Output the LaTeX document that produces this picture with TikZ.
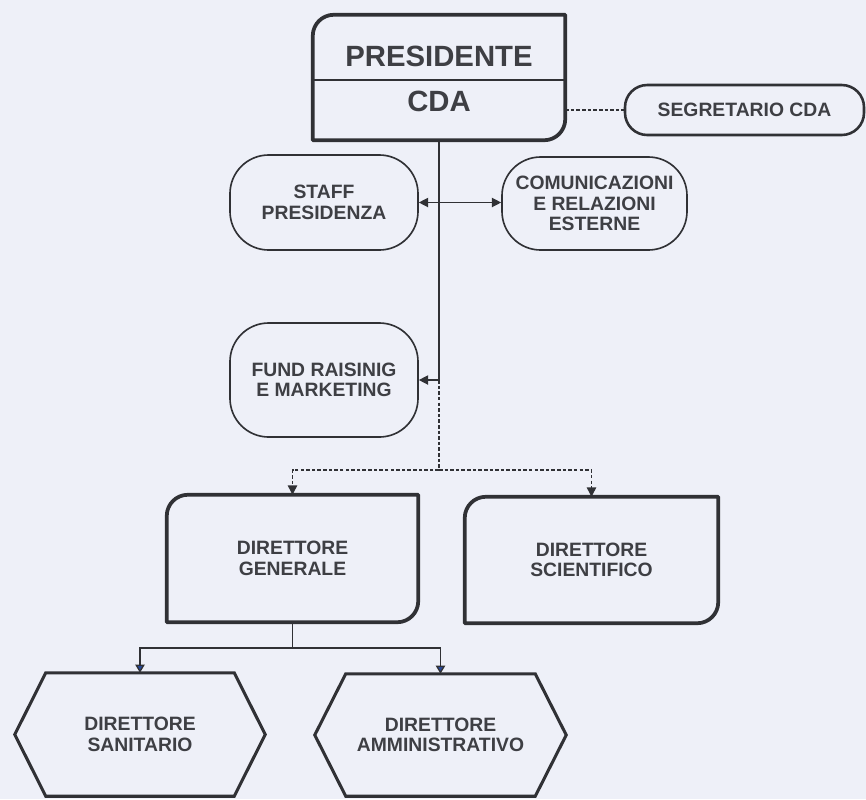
\documentclass[tikz,border=0pt]{standalone}
\usepackage{fontspec}
\setmainfont{Liberation Sans}
\usetikzlibrary{arrows.meta}

\definecolor{paper}{RGB}{238,240,248}
\definecolor{ink}{RGB}{48,49,53}
\definecolor{txt}{RGB}{62,63,68}
\definecolor{tipblue}{RGB}{40,72,150}

\newcommand{\cornerrad}{18pt}
\newcommand{\hexin}{0.93cm}
% box with rounded top-left and bottom-right corners
\newcommand{\cornerframe}[1]{%
  \draw[frame] (#1.south west) -- ([yshift=-\cornerrad]#1.north west)
    arc[start angle=180,end angle=90,radius=\cornerrad] -- (#1.north east)
    -- ([yshift=\cornerrad]#1.south east)
    arc[start angle=0,end angle=-90,radius=\cornerrad] -- cycle;}
% hexagon round a node
\newcommand{\hexframe}[1]{%
  \draw[hexline] (#1.west) -- ([xshift=\hexin]#1.north west)
    -- ([xshift=-\hexin]#1.north east) -- (#1.east)
    -- ([xshift=-\hexin]#1.south east) -- ([xshift=\hexin]#1.south west) -- cycle;}

\begin{document}
\begin{tikzpicture}[x=0.03cm,y=-0.03cm,
  lbl/.style={text=txt,font=\fontsize{16.5}{17.5}\selectfont\bfseries,align=center,inner sep=0pt},
  bigtext/.style={text=txt,font=\fontsize{25}{26}\selectfont\bfseries,inner sep=0pt},
  roundbox/.style={lbl,draw=ink,line width=1.4pt,rounded corners=33pt},
  ovalbox/.style={lbl,draw=ink,line width=2.2pt,rounded corners=19pt},
  plainbox/.style={lbl,draw=none},
  frame/.style={draw=ink,line width=3.2pt,line join=round},
  hexline/.style={draw=ink,line width=2.6pt,line join=miter},
  link/.style={draw=ink,line width=1.1pt},
  dlink/.style={link,dash pattern=on 3pt off 1.8pt},
  tip/.style={-{Triangle[length=8pt,width=8pt]}},
  bluetip/.style={-{Triangle[length=7pt,width=8pt,fill=tipblue]}}]

\fill[paper] (0,0) rectangle (866,799);
\useasboundingbox (0,0) rectangle (866,799);

% presidente
\node[plainbox,minimum width=7.56cm,minimum height=3.75cm] (pres) at (439,77.5) {};
\node[bigtext] (presname) at (439,56) {PRESIDENTE};
\node[bigtext] (cda) at (439,101) {CDA};
\cornerframe{pres}
\draw[ink,line width=1.6pt] (pres.west |- 0,80) -- (pres.east |- 0,80);

\node[ovalbox,minimum width=7.17cm,minimum height=1.5cm] (segr) at (744.5,110) {SEGRETARIO CDA};

% staff
\node[roundbox,minimum width=5.64cm,minimum height=2.85cm] (staff) at (324,202.5) {STAFF\\PRESIDENZA};
\node[roundbox,minimum width=5.55cm,minimum height=2.79cm] (comm) at (594.5,203.5) {COMUNICAZIONI\\E RELAZIONI\\ESTERNE};
\node[roundbox,minimum width=5.64cm,minimum height=3.42cm] (fund) at (324,380) {FUND RAISINIG\\E MARKETING};

% direttori
\node[plainbox,minimum width=7.53cm,minimum height=3.81cm] (dg) at (292.5,558.5) {DIRETTORE\\GENERALE};
\node[plainbox,minimum width=7.59cm,minimum height=3.78cm] (ds) at (591.5,560) {DIRETTORE\\SCIENTIFICO};
\cornerframe{dg}
\cornerframe{ds}

\node[plainbox,minimum width=7.5cm,minimum height=3.69cm] (dsan) at (140,734.5) {DIRETTORE\\SANITARIO};
\node[plainbox,minimum width=7.53cm,minimum height=3.66cm] (damm) at (440.5,735) {DIRETTORE\\AMMINISTRATIVO};
\hexframe{dsan}
\hexframe{damm}

% connectors
\coordinate (fsplit) at (pres.south |- fund.east);
\coordinate (dsplit) at (pres.south |- 0,470);
\coordinate (gsplit) at (dg.south |- 0,648);

\draw[dlink] (pres.east |- segr.west) -- (segr.west);
\draw[link] (pres.south) -- (fsplit);
\draw[link,tip] (pres.south |- staff.east) -- (staff.east);
\draw[link,tip] (pres.south |- staff.east) -- (staff.east -| comm.west);
\draw[link,tip] (fsplit) -- (fund.east);
\draw[dlink] (fsplit) -- (dsplit);
\draw[dlink,tip] (dsplit) -| (dg.north);
\draw[dlink,tip] (dsplit) -| (ds.north);
\draw[link] (dg.south) -- (gsplit);
\draw[link,bluetip] (gsplit) -| (dsan.north);
\draw[link,bluetip] (gsplit) -| (damm.north);
\end{tikzpicture}
\end{document}
